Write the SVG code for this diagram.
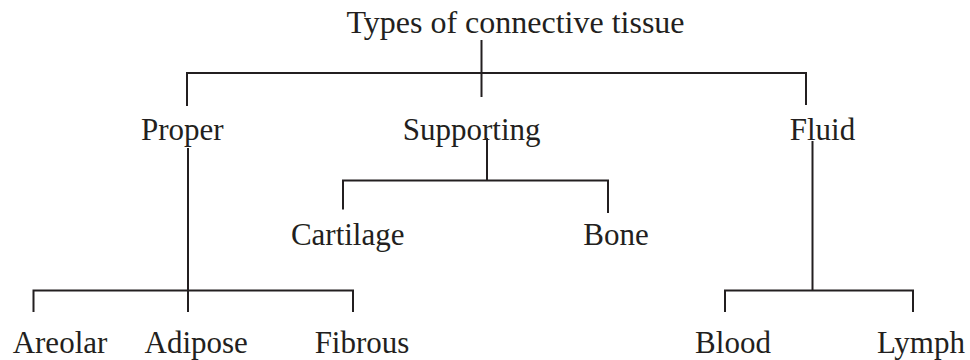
<svg xmlns="http://www.w3.org/2000/svg" width="970" height="360" viewBox="0 0 970 360">
<style>
text { font-family: "Liberation Serif", "Times New Roman", serif; font-size: 31px; fill: #231f20; text-anchor: middle; }
.t { font-size: 32px; }
.c { fill: none; stroke: #231f20; stroke-width: 2; stroke-linejoin: miter; }
</style>
<rect width="970" height="360" fill="#ffffff"/>
<g id="connectors">
<path class="c" d="M481.5 40 V97"/>
<path class="c" d="M187 106 V73 H806 V105"/>
<path class="c" d="M188 148 V312"/>
<path class="c" d="M33.5 312 V290.5 H353 V312"/>
<path class="c" d="M487 138 V180.5"/>
<path class="c" d="M343 209.5 V180.5 H608 V213"/>
<path class="c" d="M812.5 141 V290.5"/>
<path class="c" d="M725 312 V290.5 H913 V312"/>
</g>
<g id="root"><text class="t" x="515.5" y="33">Types of connective tissue</text></g>
<g id="proper"><text x="182.3" y="140">Proper</text></g>
<g id="supporting"><text x="471.7" y="140">Supporting</text></g>
<g id="fluid"><text x="822.5" y="140">Fluid</text></g>
<g id="cartilage"><text x="347.7" y="245">Cartilage</text></g>
<g id="bone"><text x="616" y="245">Bone</text></g>
<g id="areolar"><text x="60" y="353">Areolar</text></g>
<g id="adipose"><text x="196.2" y="353">Adipose</text></g>
<g id="fibrous"><text x="362" y="353">Fibrous</text></g>
<g id="blood"><text x="733" y="353">Blood</text></g>
<g id="lymph"><text x="921" y="353">Lymph</text></g>
</svg>
